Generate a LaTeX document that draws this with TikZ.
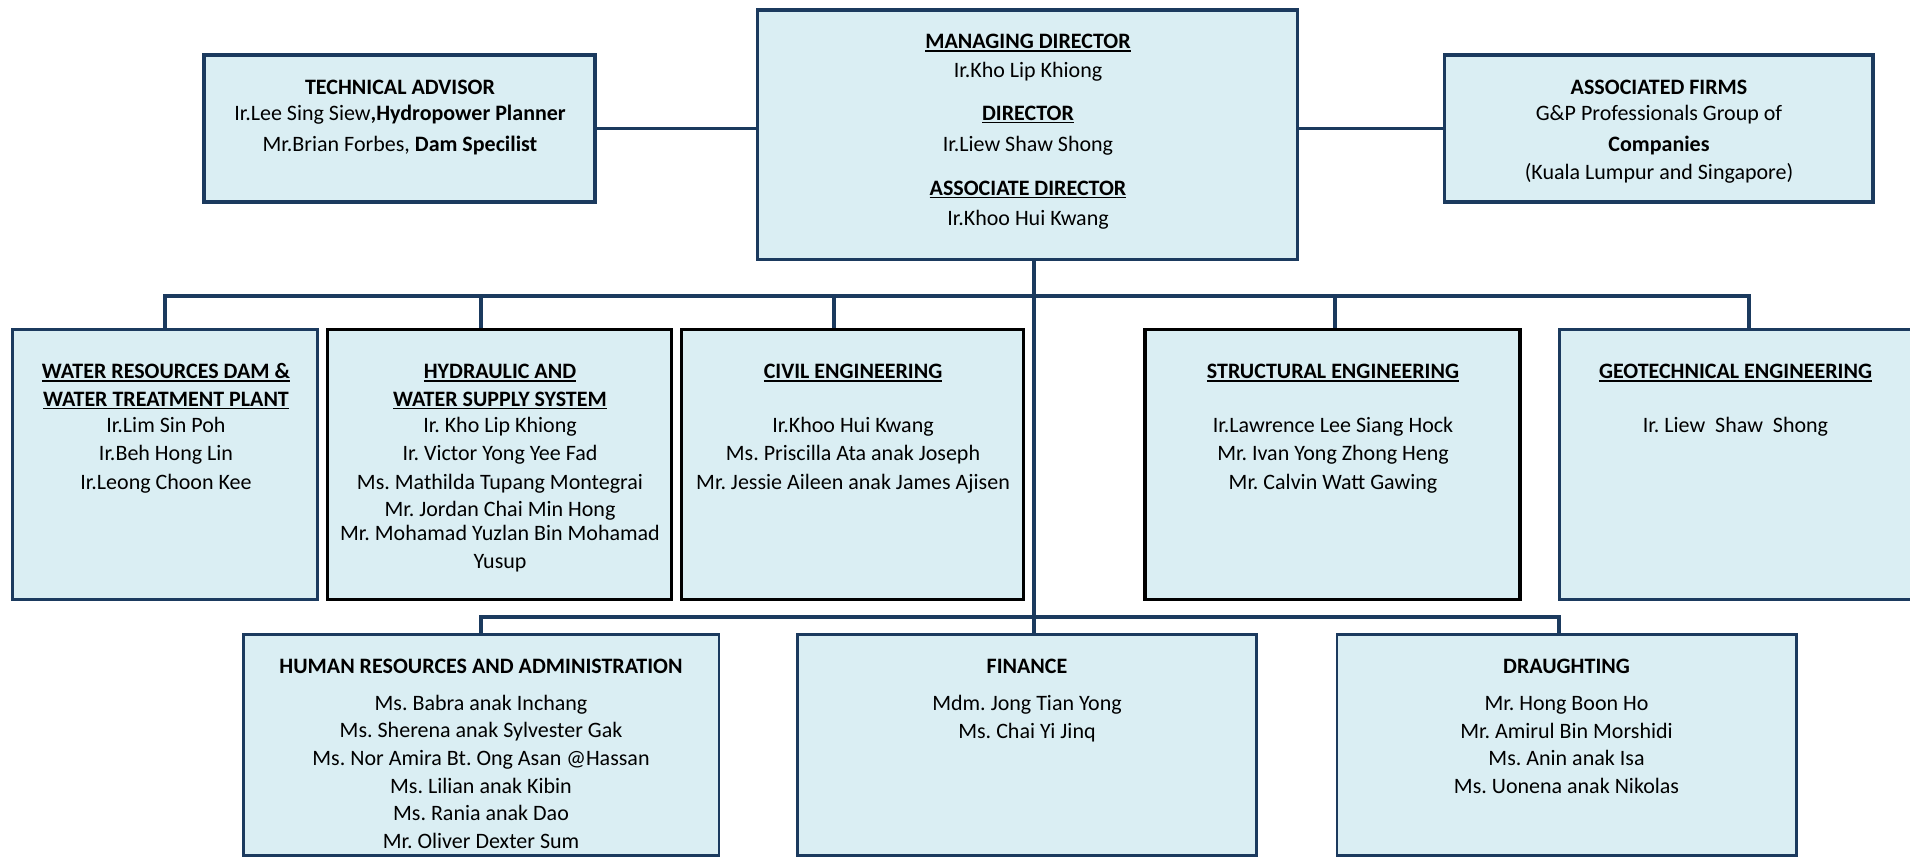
\documentclass[tikz,border=0pt]{standalone}
\usepackage{fontspec}
\setmainfont{Carlito}
\usetikzlibrary{backgrounds}
\definecolor{navy}{HTML}{1B3A5E}
\definecolor{pale}{HTML}{DAEEF3}
\newcommand{\hd}[1]{\textbf{\setbox0\hbox{#1}\rlap{\rule[-3pt]{\wd0}{1.5pt}}\box0}}
\frenchspacing
\begin{document}
\begin{tikzpicture}[x=1pt,y=-1pt,
  box/.style={rectangle, draw=navy, fill=pale, line width=3.3pt, inner sep=0pt, outer sep=0pt},
  bbox/.style={box, draw=black},
  lbox/.style={box, line width=2.8pt},
  conn/.style={draw=navy, line width=3.6pt, line join=miter},
  txt/.style={anchor=base, inner sep=0pt, outer sep=0pt, font=\fontsize{22}{26}\selectfont}]
\useasboundingbox (0,0) rectangle (1910,857);
% boxes
\node[box, minimum width=391, minimum height=147] (ta) at (399.5,128.5) {};
\node[box, minimum width=539.5, minimum height=249.4] (md) at (1027.5,134.7) {};
\node[box, minimum width=428.7, minimum height=146.8] (af) at (1658.6,128.5) {};
\node[box, minimum width=304.8, minimum height=269.8] (wr) at (165,464.5) {};
\node[bbox, minimum width=343.6, minimum height=269.8] (hyd) at (499.4,464.5) {};
\node[bbox, minimum width=342, minimum height=269.8] (civ) at (852.6,464.5) {};
\node[bbox, minimum width=375, minimum height=269.8] (stru) at (1332.6,464.5) {};
\node[box, minimum width=351.8, minimum height=269.8] (geo) at (1735.5,464.5) {};
\node[lbox, minimum width=475.8, minimum height=220.8] (hr) at (481.1,745.1) {};
\node[lbox, minimum width=459.2, minimum height=220.8] (fin) at (1027,745.1) {};
\node[lbox, minimum width=459.7, minimum height=220.8] (dr) at (1566.75,745.1) {};
% connectors
\coordinate (ub) at (0,296);
\coordinate (lb) at (0,617);
\coordinate (trk) at (1034,296);
\coordinate (ubW) at (wr.north |- ub);
\coordinate (ubH) at (481,296);
\coordinate (ubC) at (834,296);
\coordinate (ubS) at (1335,296);
\coordinate (ubG) at (1749,296);
\coordinate (lbH) at (hr.north |- lb);
\coordinate (lbD) at (1559,617);
\begin{scope}[on background layer]
\fill[white] (0,0) rectangle (1910,857);
\draw[conn] (ta.east) -- (ta.east -| md.west);
\draw[conn] (af.west -| md.east) -- (af.west);
\draw[conn] (trk |- md.south) -- (trk |- fin.north);
\draw[conn] (ubW |- wr.north) -- (ubW) -- (ubG) -- (ubG |- geo.north);
\draw[conn] (ubH) -- (ubH |- hyd.north);
\draw[conn] (ubC) -- (ubC |- civ.north);
\draw[conn] (ubS) -- (ubS |- stru.north);
\draw[conn] (lbH |- hr.north) -- (lbH) -- (lbD) -- (lbD |- dr.north);
\end{scope}
% texts
\foreach \y/\t [count=\i] in {94/{\textbf{TECHNICAL ADVISOR}}, 120/{Ir.Lee Sing Siew\textbf{,Hydropower Planner}}, 151/{Mr.Brian Forbes, \textbf{Dam Specilist}}}
  \node[txt] (ta-\i) at (400,\y) {\t};
\foreach \y/\t [count=\i] in {48.8/{\hd{MANAGING DIRECTOR}}, 77.3/{Ir.Kho Lip Khiong}, 120/{\hd{DIRECTOR}}, 151.7/{Ir.Liew Shaw Shong}, 195/{\hd{ASSOCIATE DIRECTOR}}, 225.7/{Ir.Khoo Hui Kwang}}
  \node[txt] (md-\i) at (1028,\y) {\t};
\foreach \y/\t [count=\i] in {94/{\textbf{ASSOCIATED FIRMS}}, 120/{G\&P Professionals Group of}, 151/{\textbf{Companies}}, 179.3/{(Kuala Lumpur and Singapore)}}
  \node[txt] (af-\i) at (1659,\y) {\t};
\foreach \y/\t [count=\i] in {378.8/{\hd{WATER RESOURCES DAM \&}}, 406.4/{\hd{WATER TREATMENT PLANT}}, 432.7/{Ir.Lim Sin Poh}, 460.7/{Ir.Beh Hong Lin}, 489/{Ir.Leong Choon Kee}}
  \node[txt] (wr-\i) at (166,\y) {\t};
\foreach \y/\t [count=\i] in {378.8/{\hd{HYDRAULIC AND}}, 406.4/{\hd{WATER SUPPLY SYSTEM}}, 432.7/{Ir. Kho Lip Khiong}, 460.7/{Ir. Victor Yong Yee Fad}, 489/{Ms. Mathilda Tupang Montegrai}, 516/{Mr. Jordan Chai Min Hong}, 540/{Mr. Mohamad Yuzlan Bin Mohamad}, 568.3/{Yusup}}
  \node[txt] (hyd-\i) at (500,\y) {\t};
\foreach \y/\t [count=\i] in {378.8/{\hd{CIVIL ENGINEERING}}, 432.7/{Ir.Khoo Hui Kwang}, 460.7/{Ms. Priscilla Ata anak Joseph}, 489/{Mr. Jessie Aileen anak James Ajisen}}
  \node[txt] (civ-\i) at (853,\y) {\t};
\foreach \y/\t [count=\i] in {378.8/{\hd{STRUCTURAL ENGINEERING}}, 432.7/{Ir.Lawrence Lee Siang Hock}, 460.7/{Mr. Ivan Yong Zhong Heng}, 489/{Mr. Calvin Watt Gawing}}
  \node[txt] (stru-\i) at (1333,\y) {\t};
\foreach \y/\t [count=\i] in {378.8/{\hd{GEOTECHNICAL ENGINEERING}}, 432.7/{Ir. Liew~ Shaw~ Shong}}
  \node[txt] (geo-\i) at (1735.5,\y) {\t};
\foreach \y/\t [count=\i] in {673.8/{\textbf{HUMAN RESOURCES AND ADMINISTRATION}}, 710/{Ms. Babra anak Inchang}, 737.7/{Ms. Sherena anak Sylvester Gak}, 765/{Ms. Nor Amira Bt. Ong Asan @Hassan}, 793.3/{Ms. Lilian anak Kibin}, 820.7/{Ms. Rania anak Dao}, 848.3/{Mr. Oliver Dexter Sum}}
  \node[txt] (hr-\i) at (481,\y) {\t};
\foreach \y/\t [count=\i] in {673.8/{\textbf{FINANCE}}, 710/{Mdm. Jong Tian Yong}, 738/{Ms. Chai Yi Jinq}}
  \node[txt] (fin-\i) at (1027,\y) {\t};
\foreach \y/\t [count=\i] in {673.8/{\textbf{DRAUGHTING}}, 710/{Mr. Hong Boon Ho}, 738/{Mr. Amirul Bin Morshidi}, 765/{Ms. Anin anak Isa}, 793/{Ms. Uonena anak Nikolas}}
  \node[txt] (dr-\i) at (1566.5,\y) {\t};
\end{tikzpicture}
\end{document}
